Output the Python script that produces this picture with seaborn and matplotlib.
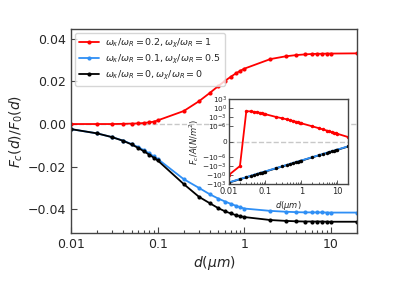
import numpy as np
import pandas as pd
import seaborn as sns
import matplotlib
matplotlib.use("Agg")
import matplotlib.pyplot as plt
from matplotlib.ticker import FixedLocator, NullLocator

sns.set_theme(style="ticks")
plt.rcParams['font.family'] = ['DejaVu Sans']
plt.rcParams['mathtext.fontset'] = 'dejavusans'

d = [0.01, 0.02, 0.03, 0.04, 0.05, 0.06, 0.07, 0.08, 0.09,
     0.1, 0.2, 0.3, 0.4, 0.5, 0.6, 0.7, 0.8, 0.9,
     1, 2, 3, 4, 5, 6, 7, 8, 9, 10, 20]

# main panel: F_c(d)/F_0(d)
ratio_red = [0.0, 0.0, 0.0, 0.0001, 0.0002, 0.0003, 0.0005, 0.0008, 0.0011,
             0.0017, 0.0061, 0.0107, 0.0146, 0.0178, 0.0203, 0.0222, 0.0238, 0.0250,
             0.0260, 0.0305, 0.0318, 0.0324, 0.0327, 0.0329, 0.0330, 0.0330, 0.0331, 0.0331, 0.0332]
ratio_blue = [-0.0024, -0.0044, -0.0062, -0.0078, -0.0094, -0.0109, -0.0124, -0.0138, -0.0152,
              -0.0164, -0.0259, -0.0300, -0.0330, -0.0350, -0.0364, -0.0375, -0.0384, -0.0391,
              -0.0397, -0.0408, -0.0412, -0.0414, -0.0415, -0.0415, -0.0415, -0.0415, -0.0416, -0.0416, -0.0416]
ratio_black = [-0.0024, -0.0044, -0.0062, -0.0079, -0.0096, -0.0113, -0.0129, -0.0144, -0.0158,
               -0.0171, -0.0282, -0.0342, -0.0372, -0.0395, -0.0410, -0.0420, -0.0428, -0.0433,
               -0.0437, -0.0451, -0.0455, -0.0457, -0.0458, -0.0458, -0.0458, -0.0458, -0.0459, -0.0459, -0.0459]

# inset: F_c/A in N/m^2
force_red = [-0.8, -1.0e-3, 0.11, 0.089, 0.063, 0.045, 0.032, 0.022, 0.016,
             0.011, 1.3e-3, 4.5e-4, 2.0e-4, 1.0e-4, 5.6e-5, 3.5e-5, 2.2e-5, 1.4e-5,
             1.0e-5, 1.0e-6, 2.5e-7, 8.9e-8, 4.0e-8, 2.0e-8, 1.1e-8, 7.1e-9, 4.5e-9, 3.2e-9, 2.5e-10]
force_blue = [-270, -21, -4.9, -1.7, -0.77, -0.40, -0.22, -0.14, -0.094,
              -0.061, -4.9e-3, -1.1e-3, -4.0e-4, -1.8e-4, -9.1e-5, -5.1e-5, -3.1e-5, -2.1e-5,
              -1.4e-5, -1.1e-6, -2.6e-7, -9.1e-8, -4.0e-8, -2.0e-8, -1.2e-8, -7.2e-9, -4.8e-9, -3.2e-9, -2.6e-10]
force_black = [-316, -25, -5.8, -2.0, -0.9, -0.47, -0.26, -0.16, -0.11,
               -0.072, -5.8e-3, -1.3e-3, -4.7e-4, -2.1e-4, -1.07e-4, -6.0e-5, -3.7e-5, -2.5e-5,
               -1.66e-5, -1.3e-6, -3.0e-7, -1.07e-7, -4.7e-8, -2.4e-8, -1.4e-8, -8.5e-9, -5.6e-9, -3.8e-9, -3.1e-10]

labels = [r'$\omega_\kappa/\omega_R=0.2, \omega_\chi/\omega_R=1$',
          r'$\omega_\kappa/\omega_R=0.1, \omega_\chi/\omega_R=0.5$',
          r'$\omega_\kappa/\omega_R=0, \omega_\chi/\omega_R=0$']
colors = ['#ff0000', '#2f8ff5', '#000000']

fig = plt.figure(figsize=(3.97, 2.93), dpi=100)
ax = fig.add_axes([0.179, 0.204, 0.720, 0.696])

ax.axhline(0, color='#c8c8c8', linestyle='--', linewidth=1, zorder=0)
for ys, lab, c in zip([ratio_red, ratio_blue, ratio_black], labels, colors):
    sns.lineplot(x=d, y=ys, ax=ax, color=c, label=lab, marker='o', markersize=3,
                 markeredgewidth=0, linewidth=1.3)

ax.set_xscale('log')
ax.set_xlim(0.01, 20)
ax.set_ylim(-0.0513, 0.0445)
ax.set_xticks([0.01, 0.1, 1, 10])
ax.set_xticklabels(['0.01', '0.1', '1', '10'])
ax.set_yticks([-0.04, -0.02, 0.0, 0.02, 0.04])
ax.set_yticklabels(['\u22120.04', '\u22120.02', '0.00', '0.02', '0.04'])
ax.tick_params(direction='in', which='both', labelsize=9, width=0.8, color='#444444')
ax.tick_params(which='major', length=4)
ax.tick_params(which='minor', length=2)
ax.set_xlabel(r'$d(\mu m)$', fontsize=10, labelpad=2)
ax.set_ylabel(r'$F_c(d)/F_0(d)$', fontsize=10, labelpad=2)
for s in ax.spines.values():
    s.set_color('#444444')
    s.set_linewidth(1.0)
ax.legend(loc='upper left', fontsize=6.8, frameon=True, handlelength=2.2,
          borderaxespad=0.4, labelspacing=0.3, handletextpad=0.6, borderpad=0.4)

# inset
ins = fig.add_axes([0.577, 0.371, 0.3005, 0.291])
ins.axhline(0, color='#c8c8c8', linestyle='--', linewidth=1, zorder=0)
sns.lineplot(x=d, y=force_red, ax=ins, color=colors[0], marker='o', markersize=2.5,
             markeredgewidth=0, linewidth=1.3)
sns.lineplot(x=d, y=force_black, ax=ins, color=colors[2], linewidth=1.3)
sns.lineplot(x=d, y=force_blue, ax=ins, color=colors[1], linewidth=1.3)
ins.plot(d, force_black, linestyle='none', marker='o', markersize=2.5,
         markeredgewidth=0, color=colors[2])
ins.set_xscale('log')
ins.set_yscale('symlog', linthresh=1e-10, linscale=1)
ins.set_xlim(0.01, 20)
ins.set_ylim(-1.2e3, 1.2e3)
ins.set_xticks([0.01, 0.1, 1, 10])
ins.set_xticklabels(['0.01', '0.1', '1', '10'])
yt = [-1e3, -1, -1e-3, -1e-6, 0, 1e-6, 1e-3, 1, 1e3]
ins.yaxis.set_major_locator(FixedLocator(yt))
ins.yaxis.set_minor_locator(NullLocator())
ins.set_yticklabels([r'$-10^{3}$', r'$-10^{0}$', r'$-10^{-3}$', r'$-10^{-6}$', '0',
                     r'$10^{-6}$', r'$10^{-3}$', r'$10^{0}$', r'$10^{3}$'])
ins.tick_params(axis='x', direction='in', which='both', labelsize=6, width=0.6,
                color='#444444', pad=2)
ins.tick_params(axis='y', direction='in', which='both', labelsize=5.3, width=0.6,
                color='#444444', pad=1.5)
ins.tick_params(which='major', length=3)
ins.tick_params(which='minor', length=1.5)
ins.set_xlabel(r'$d(\mu m)$', fontsize=6, labelpad=2)
ins.set_ylabel(r'$F_c/A(N/m^2)$', fontsize=6, labelpad=1)
for s in ins.spines.values():
    s.set_color('#444444')
    s.set_linewidth(1.0)

fig.savefig('out.png', dpi=100)
